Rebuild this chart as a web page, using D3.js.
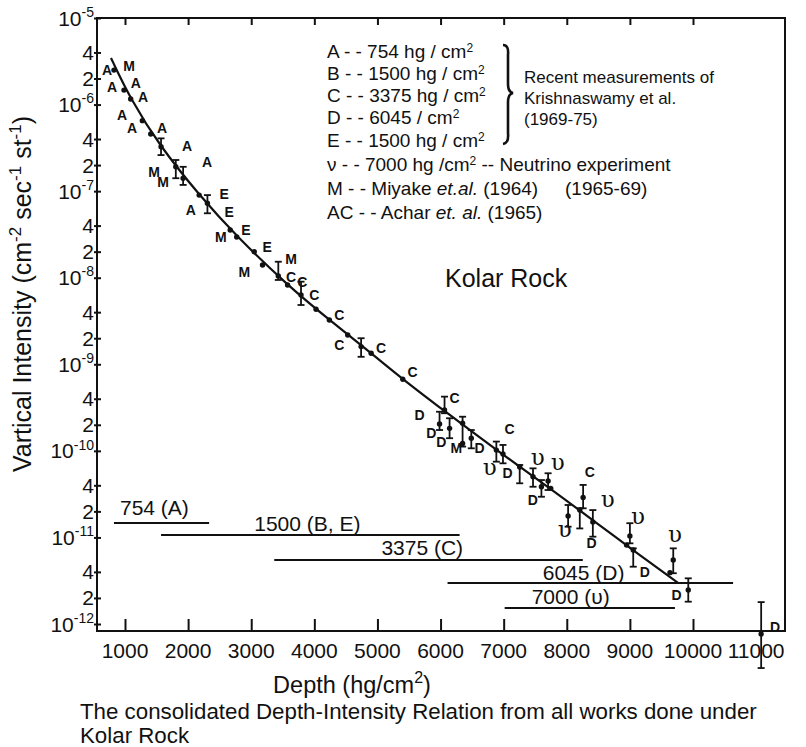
<!DOCTYPE html>
<html>
<head>
<meta charset="utf-8">
<script src="https://cdn.jsdelivr.net/npm/d3@7"></script>
<style>
body { margin: 0; background: #fff; }
svg text { font-family: "Liberation Sans", Arial, Helvetica, sans-serif; fill: #111; }
</style>
</head>
<body>
<svg id="chart" width="806" height="747"></svg>
<script>
//data
//fitted depth-intensity curve
var fitDepth = [778, 1090, 1540, 2175, 2778, 3571, 4238, 4900, 5397, 6063, 6884, 7730, 8444, 9048, 9762];
var fitIntensity = [3.45e-6, 1.15e-6, 3.41e-7, 9.0e-8, 2.95e-8, 8.24e-9, 3.25e-9, 1.35e-9, 6.76e-10, 2.88e-10, 1.02e-10, 3.72e-11, 1.52e-11, 7.16e-12, 2.98e-12];

//measured points (dots)
var dotDepth = [825, 984, 1090, 1275, 1408, 1571, 1805, 1921, 2175, 2306, 2667, 2770, 3048, 3179, 3429, 3576, 3789, 4027, 4238, 4529, 4741, 4900, 5402, 6063, 5984, 6143, 6349, 6349, 6487, 6884, 6989, 7254, 7465, 7598, 7704, 7746, 8021, 8206, 8259, 8413, 8948, 9000, 9053, 9687, 9635, 9925, 11080];
var dotIntensity = [2.5e-6, 1.47e-6, 1.16e-6, 6.52e-7, 4.57e-7, 3.26e-7, 1.91e-7, 1.41e-7, 9.0e-8, 7.25e-8, 3.56e-8, 2.95e-8, 2.0e-8, 1.40e-8, 1.05e-8, 8.24e-9, 6.31e-9, 4.32e-9, 3.25e-9, 2.18e-9, 1.60e-9, 1.34e-9, 6.71e-10, 2.96e-10, 2.04e-10, 1.82e-10, 2.08e-10, 1.22e-10, 1.40e-10, 1.02e-10, 9.2e-11, 6.52e-11, 5.02e-11, 3.85e-11, 4.49e-11, 3.69e-11, 1.77e-11, 2.07e-11, 2.90e-11, 1.51e-11, 8.18e-12, 1.04e-11, 7.16e-12, 5.48e-12, 3.92e-12, 2.47e-12, 7.66e-13];

//error bars
var errDepth = [1571, 1805, 1921, 2306, 3429, 3789, 4741, 6063, 5984, 6143, 6349, 6487, 6884, 6989, 7254, 7465, 7598, 7704, 8021, 8206, 8259, 8413, 9000, 9053, 9687, 9925, 11080];
var errLow = [2.61e-7, 1.41e-7, 1.18e-7, 5.55e-8, 9.42e-9, 4.84e-9, 1.22e-9, 2.72e-10, 1.74e-10, 1.40e-10, 1.12e-10, 1.07e-10, 7.50e-11, 7.18e-11, 4.22e-11, 3.85e-11, 2.95e-11, 3.53e-11, 1.33e-11, 1.27e-11, 2.17e-11, 1.02e-11, 8.55e-12, 4.59e-12, 3.86e-12, 1.81e-12, 3.1e-13];
var errHigh = [4.07e-7, 2.29e-7, 1.91e-7, 9.0e-8, 1.53e-8, 9.0e-9, 2.0e-9, 4.23e-10, 2.83e-10, 2.38e-10, 2.48e-10, 1.74e-10, 1.28e-10, 1.17e-10, 6.87e-11, 6.28e-11, 4.60e-11, 5.51e-11, 2.37e-11, 2.17e-11, 4.04e-11, 2.07e-11, 1.46e-11, 7.48e-12, 7.48e-12, 3.37e-12, 1.79e-12];

//letter markers [depth, intensity]
var markA = [[714, 2.51e-6], [794, 1.61e-6], [1170, 1.77e-6], [1286, 1.23e-6], [952, 7.6e-7], [1111, 5.37e-7], [1587, 5.37e-7], [1984, 3.35e-7], [2302, 2.19e-7], [2043, 6.05e-8]];
var markM = [[1063, 2.79e-6], [1460, 1.68e-7], [1603, 1.28e-7], [2519, 2.98e-8], [2889, 1.16e-8], [3630, 1.64e-8], [6249, 1.08e-10]];
var markE = [[2571, 9.27e-8], [2651, 5.74e-8], [2916, 3.56e-8], [3254, 2.28e-8]];
var markC = [[3630, 1.03e-8], [3810, 9.0e-9], [4000, 6.3e-9], [4397, 3.7e-9], [4397, 1.67e-9], [5059, 1.54e-9], [5556, 8.2e-10], [6222, 4.08e-10], [7095, 1.79e-10], [8365, 5.74e-11]];
var markD = [[5667, 2.59e-10], [5852, 1.61e-10], [6011, 1.28e-10], [6619, 1.08e-10], [7063, 5.54e-11], [7460, 2.70e-11], [8392, 8.63e-12], [9238, 4.02e-12], [9741, 2.16e-12], [11302, 9.3e-13]];
var markNu = [[6778, 6.34e-11], [7540, 8.28e-11], [7857, 7.24e-11], [8651, 2.70e-11], [7968, 1.22e-11], [9127, 1.73e-11], [9714, 1.07e-11]];

//depth ranges of each experiment
var rangeLabel = ['754 (A)', '1500 (B, E)', '3375 (C)', '6045 (D)', '7000 (\u03c5)'];
var rangeStart = [825, 1571, 3365, 6111, 7016];
var rangeEnd = [2333, 6302, 8254, 10635, 9714];
var rangeLevel = [1.47e-11, 1.07e-11, 5.48e-12, 2.98e-12, 1.53e-12];

//ticks
var xTicks = [1000, 2000, 3000, 4000, 5000, 6000, 7000, 8000, 9000, 10000];
var xTickLabels = [1000, 2000, 3000, 4000, 5000, 6000, 7000, 8000, 9000, 10000, 11000];
var yDecades = [-12, -11, -10, -9, -8, -7, -6, -5];
var yMinor = [2, 4];

//legend rows: [text, kind]
var legendRows = [
    [['A - - 754 hg / cm'], ['2', 'sup']],
    [['B - - 1500 hg / cm'], ['2', 'sup']],
    [['C - - 3375 hg / cm'], ['2', 'sup']],
    [['D - - 6045 / cm'], ['2', 'sup']],
    [['E - - 1500 hg / cm'], ['2', 'sup']],
    [['\u03bd - -  7000 hg /cm'], ['2', 'sup'], [' -- Neutrino experiment']],
    [['M - - Miyake '], ['et.al.', 'it'], [' (1964)']],
    [['AC - - Achar '], ['et. al.', 'it'], [' (1965)']]
];
var noteLines = ['Recent measurements of', 'Krishnaswamy et al.', '(1969-75)'];

//sizes
var frame = {left: 97, top: 18, right: 785, bottom: 631};

var svg = d3.select('#chart');

//scales
var x = d3.scaleLinear().domain([1000, 10000]).range([125, 693]);
var y = d3.scaleLog().domain([1e-12, 1e-5]).range([624, 18]);

//text with superscripts / italics
function rich(el, parts, size, supScale, raise) {
    supScale = supScale || 0.68;
    raise = raise || 0.42;
    var up = false;
    parts.forEach(function(p) {
        var t = el.append('tspan').text(p[0]);
        if (p[1] == 'sup') {
            t.attr('font-size', Math.round(size * supScale));
            if (!up) t.attr('dy', -size * raise);
            up = true;
        } else {
            if (up) t.attr('dy', size * raise);
            up = false;
            if (p[1] == 'it') t.attr('font-style', 'italic');
        }
    });
}

//frame
svg.append('rect')
    .attr('x', frame.left)
    .attr('y', frame.top)
    .attr('width', frame.right - frame.left)
    .attr('height', frame.bottom - frame.top)
    .attr('fill', 'none')
    .attr('stroke', '#111')
    .attr('stroke-width', 2);

//axes
var yTickValues = [];
yDecades.forEach(function(e) {
    yTickValues.push(Math.pow(10, e));
    if (e < -5) yMinor.forEach(function(m) { yTickValues.push(m * Math.pow(10, e)); });
});

function styleAxis(g) {
    g.select('.domain').remove();
    g.selectAll('.tick line').attr('stroke', '#111').attr('stroke-width', 2);
}

svg.append('g')
    .attr('transform', 'translate(' + (frame.left - 3) + ',0)')
    .call(d3.axisLeft(y).tickValues(yTickValues).tickSize(-7).tickFormat(''))
    .call(styleAxis);

svg.append('g')
    .attr('transform', 'translate(0,' + frame.bottom + ')')
    .call(d3.axisBottom(x).tickValues(xTicks).tickSize(-12).tickFormat(''))
    .call(styleAxis);

svg.append('g')
    .attr('transform', 'translate(0,' + frame.top + ')')
    .call(d3.axisTop(x).tickValues(xTicks).tickSize(-7).tickFormat(''))
    .call(styleAxis);

//y tick labels
yTickValues.forEach(function(v) {
    var e = Math.round(Math.log10(v));
    var isDecade = Math.abs(v - Math.pow(10, e)) < 1e-20;
    var t = svg.append('text')
        .attr('x', 94)
        .attr('y', y(v))
        .attr('dy', '0.36em')
        .attr('text-anchor', 'end')
        .attr('font-size', 21);
    if (isDecade) rich(t, [['10'], [String(e), 'sup']], 21);
    else t.text(Math.round(v / Math.pow(10, Math.floor(Math.log10(v)))));
});

//x tick labels
svg.selectAll('.x-label')
    .data(xTickLabels)
    .enter().append('text')
    .attr('class', 'x-label')
    .attr('x', function(d) { return x(d); })
    .attr('y', 658)
    .attr('text-anchor', 'middle')
    .attr('font-size', 21)
    .text(function(d) { return d; });

//axis titles + caption
var yTitle = svg.append('text')
    .attr('transform', 'translate(31,294) rotate(-90)')
    .attr('text-anchor', 'middle')
    .attr('font-size', 25);
rich(yTitle, [['Vartical Intensity (cm'], ['-2', 'sup'], [' sec'], ['-1', 'sup'], [' st'], ['-1', 'sup'], [')']], 25);

var xTitle = svg.append('text')
    .attr('x', 352)
    .attr('y', 693)
    .attr('text-anchor', 'middle')
    .attr('font-size', 23.5);
rich(xTitle, [['Depth (hg/cm'], ['2', 'sup'], [')']], 23.5);

svg.append('text')
    .attr('x', 80)
    .attr('y', 719)
    .attr('font-size', 22.3)
    .text('The consolidated Depth-Intensity Relation from all works done under');

svg.append('text')
    .attr('x', 80)
    .attr('y', 743)
    .attr('font-size', 22.3)
    .text('Kolar Rock');

svg.append('text')
    .attr('x', 445)
    .attr('y', 287)
    .attr('font-size', 25)
    .text('Kolar Rock');

//depth range bars
var ranges = d3.range(rangeLabel.length).map(function(i) {
    return {label: rangeLabel[i], start: rangeStart[i], end: rangeEnd[i], level: rangeLevel[i]};
});
//where each range label sits (depth of its left edge, px above the bar)
var rangeLabelAt = [[921, 8], [3048, 4], [5063, 5], [7619, 3], [7444, 4]];

svg.selectAll('.range-line')
    .data(ranges)
    .enter().append('line')
    .attr('class', 'range-line')
    .attr('x1', function(d) { return x(d.start); })
    .attr('x2', function(d) { return x(d.end); })
    .attr('y1', function(d) { return y(d.level); })
    .attr('y2', function(d) { return y(d.level); })
    .attr('stroke', '#111')
    .attr('stroke-width', 2);

svg.selectAll('.range-label')
    .data(ranges)
    .enter().append('text')
    .attr('class', 'range-label')
    .attr('x', function(d, i) { return x(rangeLabelAt[i][0]); })
    .attr('y', function(d, i) { return y(d.level) - rangeLabelAt[i][1]; })
    .attr('font-size', 21)
    .text(function(d) { return d.label; });

//fitted line
var line = d3.line()
    .x(function(d) { return x(d[0]); })
    .y(function(d) { return y(d[1]); })
    .curve(d3.curveBasis);

svg.append('path')
    .datum(d3.zip(fitDepth, fitIntensity))
    .attr('d', line)
    .attr('fill', 'none')
    .attr('stroke', '#111')
    .attr('stroke-width', 2.2);

//error bars
var errs = d3.range(errDepth.length).map(function(i) {
    return {depth: errDepth[i], lo: errLow[i], hi: errHigh[i]};
});
var errG = svg.append('g').attr('stroke', '#111').attr('stroke-width', 1.8);
errs.forEach(function(d) {
    var cx = x(d.depth);
    errG.append('line').attr('x1', cx).attr('x2', cx).attr('y1', y(d.hi)).attr('y2', y(d.lo));
    errG.append('line').attr('x1', cx - 3.5).attr('x2', cx + 3.5).attr('y1', y(d.hi)).attr('y2', y(d.hi));
    errG.append('line').attr('x1', cx - 3.5).attr('x2', cx + 3.5).attr('y1', y(d.lo)).attr('y2', y(d.lo));
});

//dots
svg.selectAll('.dot')
    .data(d3.zip(dotDepth, dotIntensity))
    .enter().append('circle')
    .attr('class', 'dot')
    .attr('cx', function(d) { return x(d[0]); })
    .attr('cy', function(d) { return y(d[1]); })
    .attr('r', 2.7)
    .attr('fill', '#111');

//letter markers
var markSets = [
    {letter: 'A', pts: markA},
    {letter: 'M', pts: markM},
    {letter: 'E', pts: markE},
    {letter: 'C', pts: markC},
    {letter: 'D', pts: markD}
];
markSets.forEach(function(s) {
    svg.selectAll('.mark-' + s.letter)
        .data(s.pts)
        .enter().append('text')
        .attr('class', 'mark-' + s.letter)
        .attr('x', function(d) { return x(d[0]); })
        .attr('y', function(d) { return y(d[1]); })
        .attr('dy', '0.36em')
        .attr('text-anchor', 'middle')
        .attr('font-size', 14)
        .attr('font-weight', 'bold')
        .text(s.letter);
});

svg.selectAll('.mark-nu')
    .data(markNu)
    .enter().append('text')
    .attr('class', 'mark-nu')
    .attr('x', function(d) { return x(d[0]); })
    .attr('y', function(d) { return y(d[1]); })
    .attr('dy', '0.3em')
    .attr('text-anchor', 'middle')
    .attr('font-size', 23)
    .style('font-family', '"DejaVu Serif", serif')
    .text('\u03c5');

//legend
var legendBase = [58, 80, 102, 124, 147, 171, 195, 219];
legendRows.forEach(function(row, i) {
    var t = svg.append('text')
        .attr('x', 327)
        .attr('y', legendBase[i])
        .attr('font-size', 19);
    rich(t, row, 19, 0.62, 0.34);
});

svg.append('text')
    .attr('x', 565)
    .attr('y', legendBase[6])
    .attr('font-size', 19)
    .text('(1965-69)');

//brace
svg.append('path')
    .attr('d', 'M503,45 Q509,45 508,55 L508,84 Q508,92 513,93 Q508,94 508,102 L508,133 Q509,143 503,144')
    .attr('fill', 'none')
    .attr('stroke', '#111')
    .attr('stroke-width', 2.6);

noteLines.forEach(function(s, i) {
    svg.append('text')
        .attr('x', 524)
        .attr('y', [83, 104, 125][i])
        .attr('font-size', 17)
        .text(s);
});
</script>
</body>
</html>
